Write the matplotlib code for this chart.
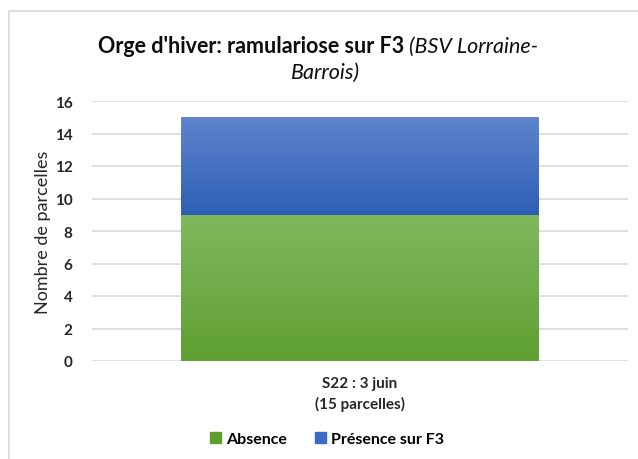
import matplotlib.pyplot as plt
import numpy as np
from matplotlib.colors import LinearSegmentedColormap
from matplotlib.patches import Rectangle

plt.rcParams['font.family'] = ['Lato', 'DejaVu Sans']

categories = ["S22 : 3 juin\n(15 parcelles)"]
series_names = ["Absence", "Présence sur F3"]
absence = [9]
presence = [6]
yticks = [0, 2, 4, 6, 8, 10, 12, 14, 16]

green_top, green_bot = "#80b85e", "#5f9f32"
blue_top, blue_bot = "#5e84cc", "#2e5fb5"

fig = plt.figure(figsize=(6.38, 4.6), dpi=100)
ax = fig.add_axes([92/638, 1 - 362/460, 536/638, 260/460])

x = np.arange(len(categories))
b1 = ax.bar(x, absence, width=0.667, color=green_bot, zorder=2, label=series_names[0])
b2 = ax.bar(x, presence, bottom=absence, width=0.667, color=blue_bot, zorder=2, label=series_names[1])

# vertical gradients clipped to each bar
def gradient(bars, top, bot):
    cmap = LinearSegmentedColormap.from_list("g", [bot, top])
    for b in bars:
        x0, y0 = b.get_x(), b.get_y()
        w, h = b.get_width(), b.get_height()
        grad = np.linspace(0, 1, 256).reshape(-1, 1)
        im = ax.imshow(grad, cmap=cmap, origin="lower", aspect="auto",
                       extent=[x0, x0 + w, y0, y0 + h], zorder=3)
        im.set_clip_path(b)

gradient(b1, green_top, green_bot)
gradient(b2, blue_top, blue_bot)

ax.set_xlim(-0.5, 0.5)
ax.set_ylim(0, 16)
ax.set_yticks(yticks)
ax.set_yticklabels([str(v) for v in yticks], fontweight="bold", fontsize=11, color="#262626")
ax.set_xticks(x)
ax.set_xticklabels(categories, fontweight="bold", fontsize=11, color="#262626", linespacing=1.45)
ax.tick_params(length=0, pad=14)
ax.tick_params(axis="x", pad=11)
ax.yaxis.grid(True, color="#d9d9d9", lw=1.2, zorder=0)
for s in ax.spines.values():
    s.set_visible(False)
ax.set_ylabel("Nombre de parcelles", fontsize=13, color="#262626", labelpad=3)

# title: bold part + italic part, centered together
fig.canvas.draw()
r = fig.canvas.get_renderer()
t1 = fig.text(0, 0, "Orge d'hiver: ramulariose sur F3 ", fontsize=15.5, fontweight="bold", color="#0d0d0d")
t2 = fig.text(0, 0, "(BSV Lorraine-", fontsize=15.5, fontstyle="italic", color="#0d0d0d")
w1 = t1.get_window_extent(r).width
w2 = t2.get_window_extent(r).width
xs = 318 - (w1 + w2) / 2
t1.set_position((xs / 638, 1 - 53 / 460))
t2.set_position(((xs + w1) / 638, 1 - 53 / 460))
fig.text(325 / 638, 1 - 79 / 460, "Barrois)", fontsize=15.5, fontstyle="italic", ha="center", color="#0d0d0d")

handles = [Rectangle((0, 0), 1, 1, color=green_bot), Rectangle((0, 0), 1, 1, color="#3a6cc4")]
fig.legend(handles, series_names, loc="center", bbox_to_anchor=(327 / 638, 1 - 440 / 460),
           ncol=2, frameon=False, handlelength=0.7, handleheight=0.7,
           handletextpad=0.3, columnspacing=1.8, prop={"weight": "bold", "size": 11.5})

fig.patches.append(Rectangle((8.5 / 638, -0.1), 1.2, 1 - 11.5 / 460 + 0.1, transform=fig.transFigure,
                             fill=False, edgecolor="#d9d9d9", lw=1.2))

fig.savefig("out.png", dpi=100)
